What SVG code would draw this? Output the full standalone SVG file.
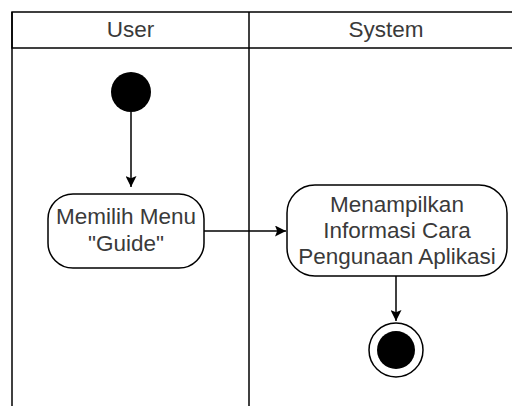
<svg xmlns="http://www.w3.org/2000/svg" width="512" height="406" viewBox="0 0 512 406">
  <style>
    .lane { fill: none; stroke: #000; stroke-width: 1.5; }
    .label { font-family: "Liberation Sans", Arial, sans-serif; font-size: 22.5px; fill: #3a3a3a; text-anchor: middle; }
    .action { fill: #fff; stroke: #000; stroke-width: 1.5; }
    .flow { fill: none; stroke: #000; stroke-width: 1.5; }
  </style>
  <defs>
    <marker id="arrow" viewBox="0 0 10 10" refX="10" refY="5" markerWidth="11" markerHeight="11" markerUnits="userSpaceOnUse" orient="auto">
      <path d="M0,0 L10,5 L0,10 L2,5 Z" fill="#000"/>
    </marker>
  </defs>
  <rect width="512" height="406" fill="#fff"/>

  <!-- swimlanes -->
  <g id="lanes">
    <rect class="lane" x="12" y="12" width="512" height="36"/>
    <line class="lane" x1="12" y1="12" x2="12" y2="406"/>
    <line class="lane" x1="249" y1="12" x2="249" y2="406"/>
    <text class="label" x="130.5" y="37">User</text>
    <text class="label" x="386" y="37">System</text>
  </g>

  <!-- connectors -->
  <g id="connectors">
    <line class="flow" x1="131" y1="112" x2="131" y2="187" marker-end="url(#arrow)"/>
    <line class="flow" x1="204" y1="231" x2="286" y2="231" marker-end="url(#arrow)"/>
    <line class="flow" x1="396" y1="276" x2="396" y2="321" marker-end="url(#arrow)"/>
  </g>

  <g id="start">
    <circle cx="131" cy="92" r="20" fill="#000"/>
  </g>

  <g id="pilih-menu">
    <rect class="action" x="48" y="194" width="156" height="74" rx="25" ry="25"/>
    <text class="label" x="126" y="224">Memilih Menu</text>
    <text class="label" x="126" y="251">"Guide"</text>
  </g>

  <g id="tampil-info">
    <rect class="action" x="287" y="185" width="220" height="91" rx="28" ry="28"/>
    <text class="label" x="397" y="212">Menampilkan</text>
    <text class="label" x="397" y="238">Informasi Cara</text>
    <text class="label" x="397" y="264">Pengunaan Aplikasi</text>
  </g>

  <g id="end">
    <circle cx="396" cy="350" r="27" fill="#fff" stroke="#000" stroke-width="1.5"/>
    <circle cx="396" cy="350" r="19" fill="#000"/>
  </g>
</svg>
